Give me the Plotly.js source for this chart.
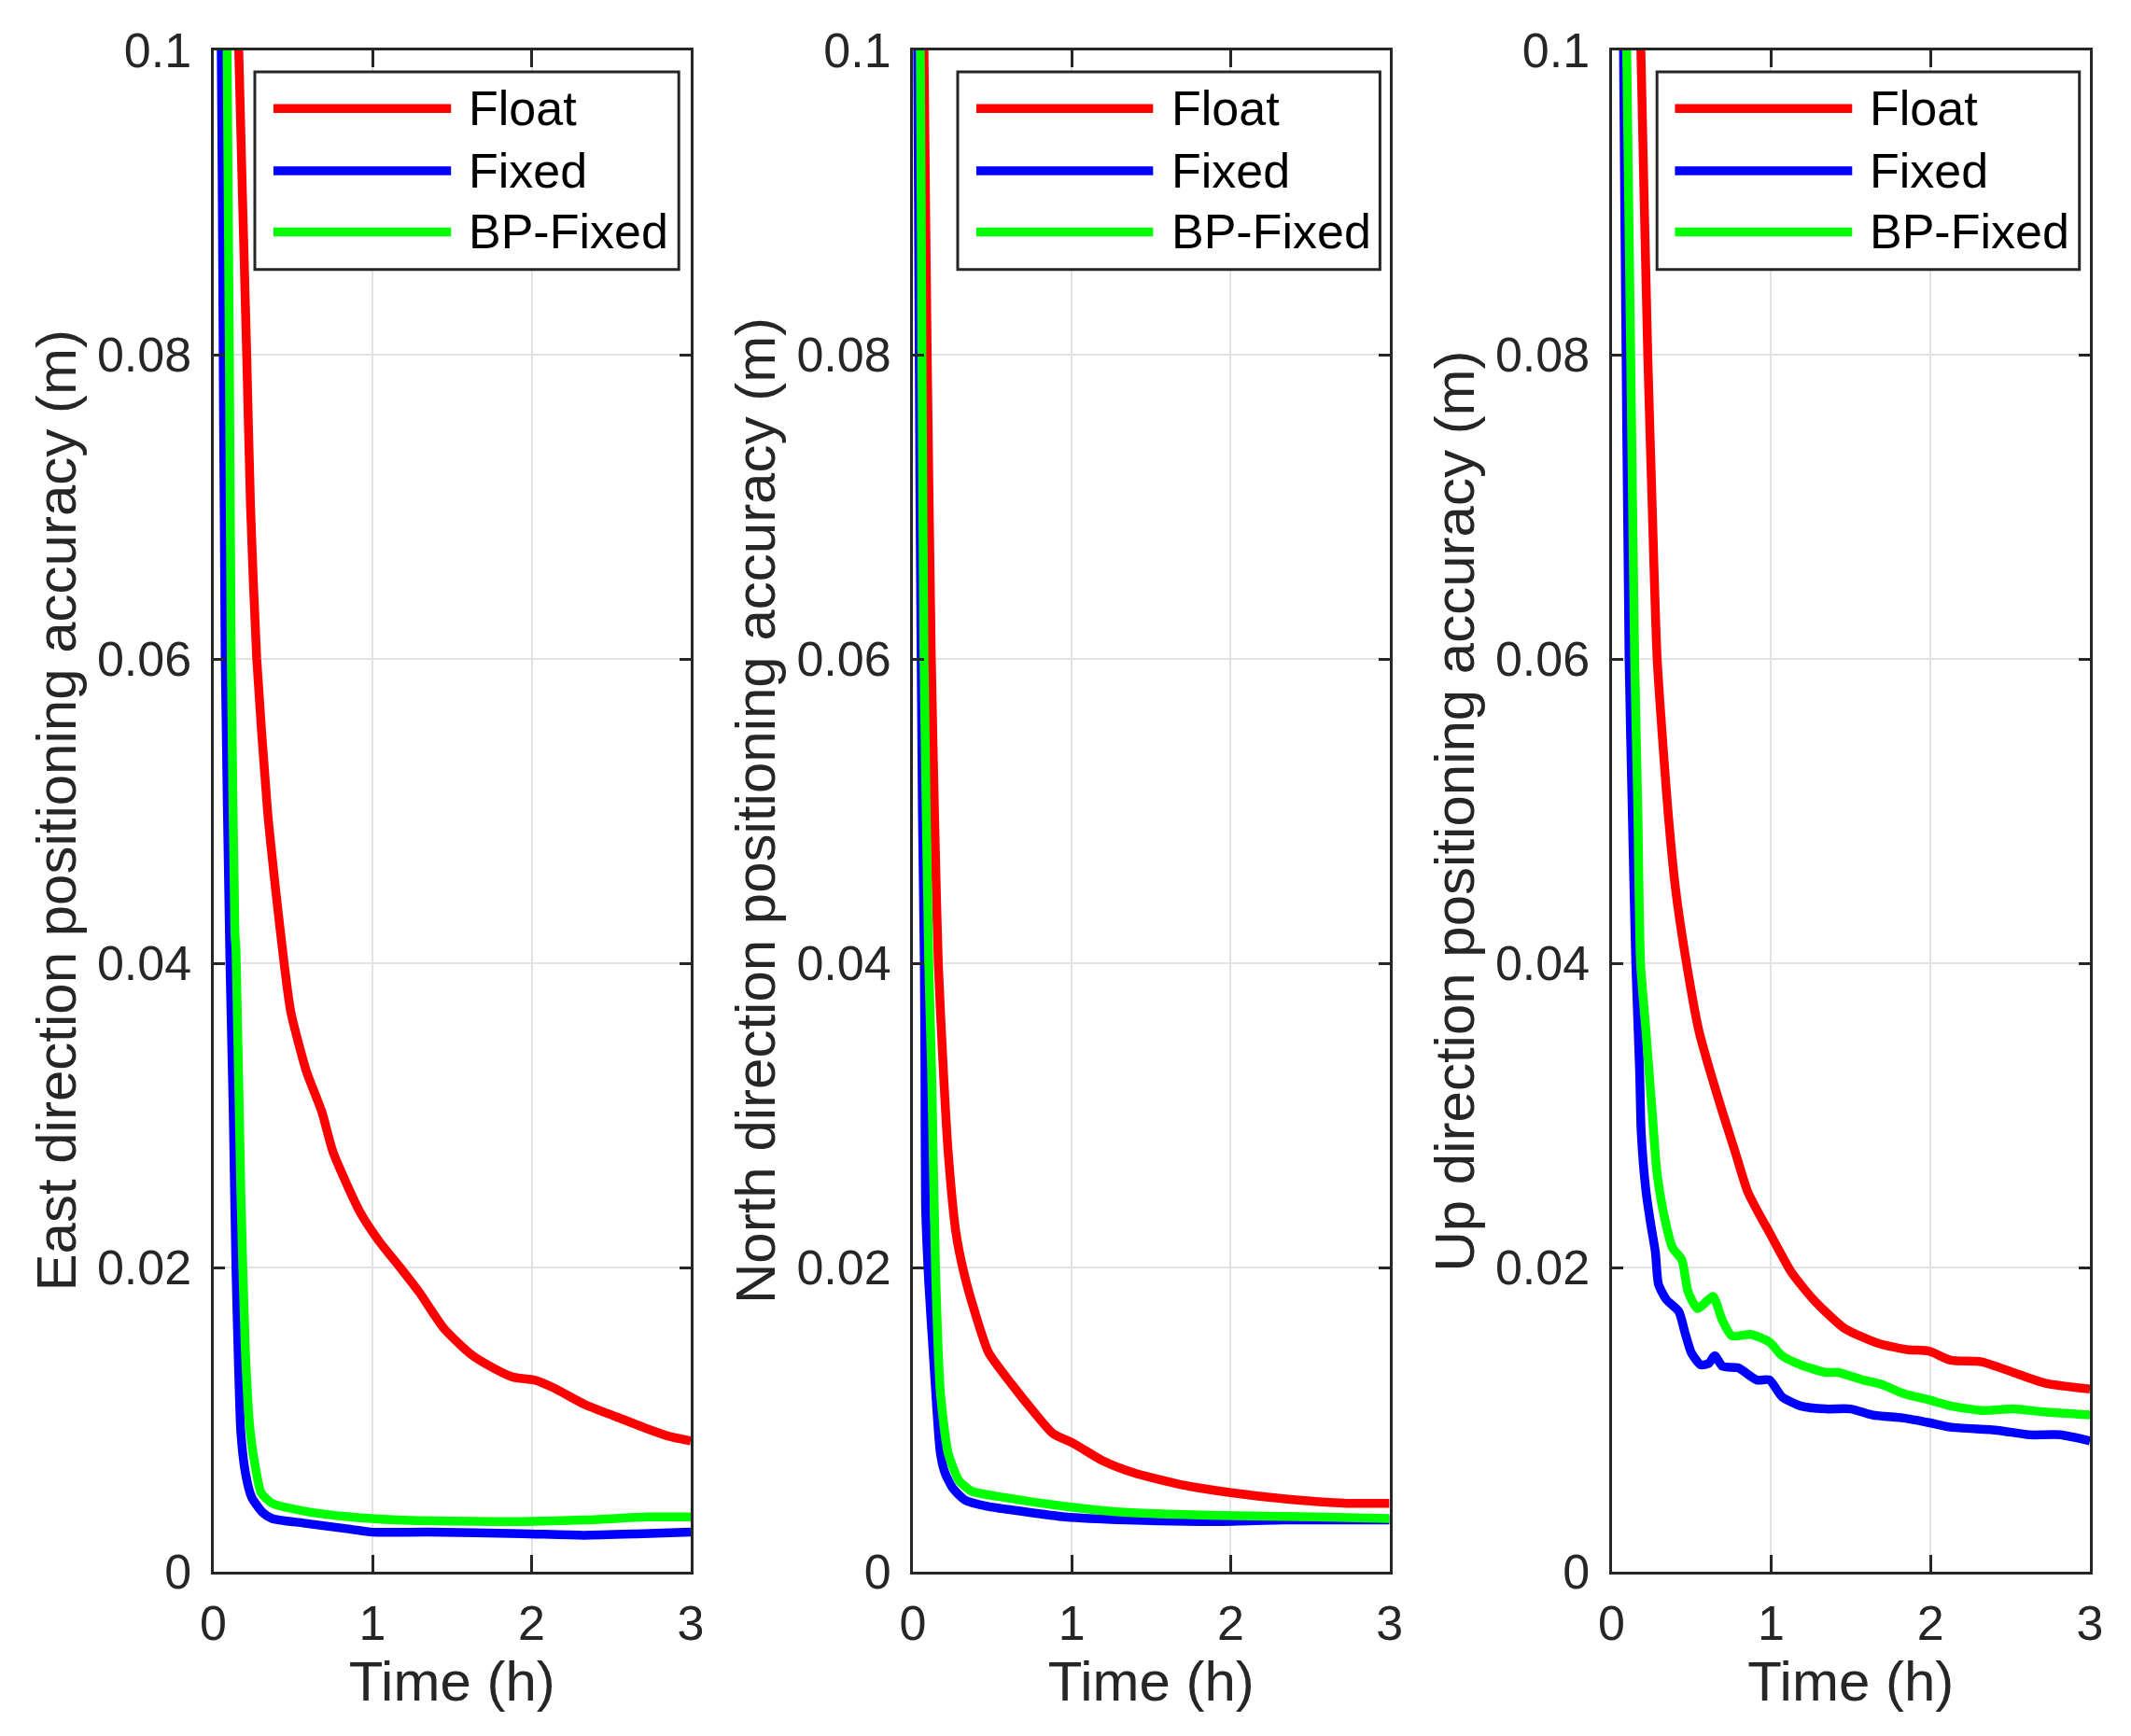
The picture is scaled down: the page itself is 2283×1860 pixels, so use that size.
<!DOCTYPE html>
<html>
<head>
<meta charset="utf-8">
<script src="https://cdn.plot.ly/plotly-3.0.1.min.js"></script>
<style>html,body{margin:0;padding:0;background:#fff;}#chart{width:2283px;height:1860px;}</style>
</head>
<body>
<div id="chart"></div>
<script>
// ---------- DATA ----------
const seriesNames = ["Float", "Fixed", "BP-Fixed"];
const panelTitles = ["East direction positioning accuracy (m)", "North direction positioning accuracy (m)", "Up direction positioning accuracy (m)"];
const xTitle = "Time (h)";
const xTickVals = [0, 1, 2, 3];
const yTickVals = [0, 0.02, 0.04, 0.06, 0.08, 0.1];
const yTickText = ["0", "0.02", "0.04", "0.06", "0.08", "0.1"];

// East
const eastFloatT = [0.12,0.16,0.21,0.234,0.273,0.341,0.39,0.445,0.487,0.585,0.683,0.752,0.919,1.037,1.174,1.292,1.449,1.606,1.724,1.881,2.018,2.136,2.333,2.529,2.725,2.863,3.0];
const eastFloatV = [0.125,0.100,0.080,0.070,0.060,0.050,0.045,0.040,0.0368,0.0329,0.0302,0.0276,0.0237,0.0218,0.0200,0.0184,0.0160,0.0144,0.0136,0.0128,0.0126,0.0121,0.0110,0.0102,0.0094,0.0089,0.0086];
const eastFixedT = [0.03,0.05,0.056,0.075,0.105,0.124,0.143,0.16,0.173,0.202,0.241,0.31,0.369,0.566,0.86,1.0,1.35,1.94,2.33,2.7,3.0];
const eastFixedV = [0.125,0.100,0.0915,0.060,0.040,0.031,0.0197,0.013,0.0092,0.0065,0.0049,0.0039,0.0035,0.0032,0.0028,0.0026,0.0026,0.0025,0.0024,0.0025,0.0026];
const eastBPT = [0.07,0.087,0.101,0.113,0.136,0.143,0.173,0.202,0.232,0.271,0.30,0.369,0.565,0.86,1.155,1.74,1.94,2.33,2.73,3.0];
const eastBPV = [0.125,0.100,0.080,0.060,0.042,0.0408,0.025,0.0144,0.0092,0.0065,0.0052,0.0045,0.0040,0.0036,0.0034,0.0033,0.0033,0.0034,0.0036,0.0036];

// North
const northFloatT = [0.05,0.07,0.09,0.116,0.14,0.16,0.192,0.222,0.271,0.32,0.389,0.477,0.624,0.762,0.88,1.017,1.194,1.39,1.70,2.0,2.33,2.73,3.0];
const northFloatV = [0.125,0.100,0.080,0.060,0.048,0.040,0.0329,0.0276,0.0223,0.0197,0.0171,0.0144,0.0123,0.0105,0.0091,0.0084,0.0073,0.0065,0.0057,0.0052,0.0048,0.0045,0.0045];
const northFixedT = [0.01,0.03,0.045,0.06,0.072,0.076,0.08,0.10,0.128,0.173,0.202,0.251,0.33,0.467,0.664,0.958,1.35,1.94,2.33,3.0];
const northFixedV = [0.125,0.100,0.070,0.050,0.040,0.033,0.024,0.019,0.0144,0.0078,0.0065,0.0055,0.0047,0.0043,0.0040,0.0036,0.0034,0.0033,0.0034,0.0034];
const northBPT = [0.02,0.047,0.057,0.07,0.10,0.118,0.143,0.173,0.222,0.29,0.369,0.565,0.958,1.35,1.94,2.53,3.0];
const northBPV = [0.125,0.100,0.080,0.060,0.040,0.0329,0.0197,0.0118,0.0078,0.0060,0.0053,0.0049,0.0043,0.0039,0.0037,0.0036,0.0035];

// Up
const upFloatT = [0.14,0.184,0.227,0.255,0.286,0.354,0.40,0.47,0.549,0.618,0.696,0.775,0.853,0.931,0.99,1.127,1.265,1.46,1.676,1.853,1.99,2.127,2.32,2.52,2.716,3.0];
const upFloatV = [0.125,0.100,0.080,0.070,0.060,0.050,0.045,0.040,0.0355,0.0329,0.0302,0.0276,0.0250,0.0234,0.0223,0.0197,0.0179,0.0160,0.0150,0.0146,0.0145,0.0139,0.0138,0.0131,0.0124,0.0120];
const upFixedT = [0.05,0.075,0.082,0.11,0.13,0.152,0.176,0.186,0.216,0.245,0.275,0.294,0.343,0.422,0.461,0.5,0.559,0.61,0.647,0.696,0.794,0.912,0.99,1.069,1.186,1.343,1.5,1.637,1.833,1.99,2.127,2.42,2.618,2.814,3.0];
const upFixedV = [0.125,0.100,0.0907,0.060,0.050,0.040,0.0329,0.0289,0.0250,0.0229,0.0210,0.0189,0.0179,0.0171,0.0157,0.0144,0.0136,0.0137,0.0142,0.0135,0.0134,0.0126,0.0126,0.0115,0.0109,0.0107,0.0107,0.0103,0.0101,0.0098,0.0095,0.0093,0.0090,0.0090,0.0086];
const upBPT = [0.06,0.095,0.12,0.145,0.165,0.182,0.216,0.255,0.284,0.324,0.382,0.441,0.48,0.539,0.60,0.637,0.696,0.755,0.873,0.99,1.069,1.186,1.343,1.42,1.578,1.696,1.833,1.99,2.127,2.324,2.52,2.716,3.0];
const upBPV = [0.125,0.100,0.080,0.060,0.050,0.040,0.0355,0.0302,0.0263,0.0237,0.0213,0.0205,0.0184,0.0173,0.0178,0.0181,0.0165,0.0155,0.0156,0.0151,0.0142,0.0136,0.0131,0.0131,0.0126,0.0123,0.0117,0.0113,0.0109,0.0106,0.0107,0.0105,0.0103];

// ---------- STYLE ----------
const colors = ["#ff0000", "#0000ff", "#00ff00"];
const FONT = "Liberation Sans, Arial, Helvetica, sans-serif";
const axisColor = "#262626";
const LW = 9.5;

const panels = [
  [[eastFloatT, eastFloatV], [eastFixedT, eastFixedV], [eastBPT, eastBPV]],
  [[northFloatT, northFloatV], [northFixedT, northFixedV], [northBPT, northBPV]],
  [[upFloatT, upFloatV], [upFixedT, upFixedV], [upBPT, upBPV]]
];

const W = 2283, H = 1860;
const xDomains = [[228.5 / W, 740 / W], [978 / W, 1488.6 / W], [1726.5 / W, 2239 / W]];
const yDomain = [1 - 1684 / H, 1 - 54 / H];
const yTitleOffset = 169; // px left of the y axis line (title centre)
const legendBoxes = [
  {x0: 0.087, x1: 0.975, l0: 0.126, l1: 0.498, tx: 0.531},
  {x0: 0.094, x1: 0.980, l0: 0.133, l1: 0.504, tx: 0.538},
  {x0: 0.095, x1: 0.978, l0: 0.1325, l1: 0.503, tx: 0.536}
];
const legendY = {top: 0.9859, bottom: 0.856, rows: [0.9618, 0.9209, 0.8807]};

const traces = [];
const layout = {
  width: W, height: H,
  margin: {l: 0, r: 0, t: 0, b: 0},
  paper_bgcolor: "#ffffff", plot_bgcolor: "#ffffff",
  showlegend: false,
  font: {family: FONT, color: axisColor},
  shapes: [], annotations: []
};

panels.forEach((panel, p) => {
  const sx = p === 0 ? "" : String(p + 1);
  panel.forEach((s, k) => {
    traces.push({
      type: "scatter", mode: "lines", name: seriesNames[k],
      x: s[0], y: s[1], xaxis: "x" + sx, yaxis: "y" + sx,
      line: {color: colors[k], width: LW, shape: "spline", smoothing: 0.6},
      hoverinfo: "skip"
    });
  });
  layout["xaxis" + sx] = {
    domain: xDomains[p], anchor: "y" + sx, range: [0, 3], tickvals: xTickVals,
    showgrid: true, gridcolor: "#e2e2e2", gridwidth: 2, zeroline: false,
    showline: true, linecolor: axisColor, linewidth: 3, mirror: "ticks",
    ticks: "inside", ticklen: 18, tickwidth: 3, tickcolor: axisColor,
    tickfont: {family: FONT, size: 52, color: axisColor},
    ticklabelstandoff: 8,
    title: {text: xTitle, font: {family: FONT, size: 60, color: axisColor}, standoff: 12}
  };
  layout["yaxis" + sx] = {
    domain: yDomain, anchor: "x" + sx, range: [0, 0.1], tickvals: yTickVals, ticktext: yTickText,
    showgrid: true, gridcolor: "#e2e2e2", gridwidth: 2, zeroline: false,
    showline: true, linecolor: axisColor, linewidth: 3, mirror: "ticks",
    ticks: "inside", ticklen: 12, tickwidth: 3, tickcolor: axisColor,
    tickfont: {family: FONT, size: 52, color: axisColor},
    ticklabelstandoff: 10
  };
  layout.annotations.push({
    xref: "paper", yref: "y" + sx + " domain",
    x: (xDomains[p][0] * W - yTitleOffset) / W, y: 0.5,
    text: panelTitles[p], textangle: -90, showarrow: false,
    xanchor: "center", yanchor: "middle",
    font: {family: FONT, size: 60, color: axisColor}
  });
  const lb = legendBoxes[p];
  const xr = "x" + sx + " domain", yr = "y" + sx + " domain";
  layout.shapes.push({type: "rect", xref: xr, yref: yr, x0: lb.x0, x1: lb.x1, y0: legendY.bottom, y1: legendY.top,
    line: {color: axisColor, width: 3}, fillcolor: "#ffffff", layer: "above"});
  seriesNames.forEach((nm, k) => {
    layout.shapes.push({type: "line", xref: xr, yref: yr, x0: lb.l0, x1: lb.l1, y0: legendY.rows[k], y1: legendY.rows[k],
      line: {color: colors[k], width: LW}, layer: "above"});
    layout.annotations.push({xref: xr, yref: yr, x: lb.tx, y: legendY.rows[k], text: nm, showarrow: false,
      xanchor: "left", yanchor: "middle", font: {family: FONT, size: 52, color: "#000000"}});
  });
});

Plotly.newPlot("chart", traces, layout, {displayModeBar: false, staticPlot: true});
</script>
</body>
</html>
